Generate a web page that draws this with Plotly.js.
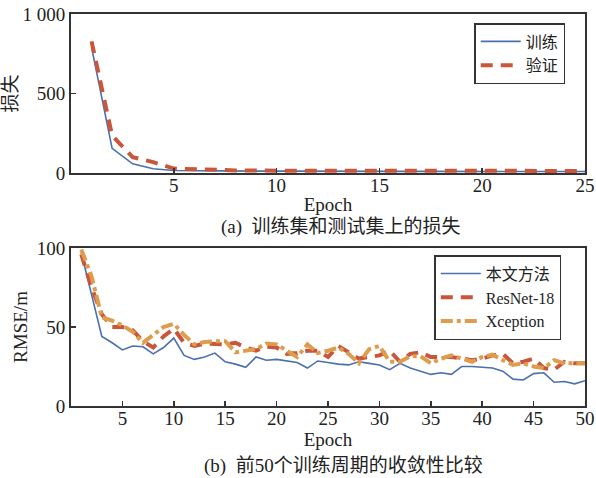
<!DOCTYPE html>
<html>
<head>
<meta charset="utf-8">
<script src="https://cdn.plot.ly/plotly-3.0.1.min.js"></script>
<style>html,body{margin:0;padding:0;background:#fff}#chart{width:596px;height:478px}</style>
</head>
<body>
<div id="chart"></div>
<script>
// ---- Data: (a) loss ----
const lossEpochs = [1,2,3,4,5,6,7,8,9,10,11,12,13,14,15,16,17,18,19,20,21,22,23,24,25];
const trainLoss = [790,155,58,27,16,14,13,13,12,12,11,11,11,10,10,10,10,9,9,9,9,9,9,9,9];
const valLoss   = [828,235,100,68,28,22,18,16,15,15,15,17,15,14,14,14,13,13,13,13,13,13,13,13,13];
const lossNames = ['训练','验证'];

// ---- Data: (b) RMSE over first 50 epochs ----
const rmseEpochs = [1,2,3,4,5,6,7,8,9,10,11,12,13,14,15,16,17,18,19,20,21,22,23,24,25,26,27,28,29,30,31,32,33,34,35,36,37,38,39,40,41,42,43,44,45,46,47,48,49,50];
const rmseOurs = [97,70,44,40,35.5,38,37.5,33,37,43,32,29.5,31,33.5,28,26.5,24.5,31,29,29.5,28.5,27.5,24,28.5,27.5,26.5,26,28,27,26,23,27,24,22,20,21,20,25,25,24.5,24,22,17,16.5,20.5,21,15,15.5,14,16];
const rmseResNet = [96,75,58,50,50,48,41,37,44,49,40,38,39.5,39,39,40,37,35,37.5,37,33,33.5,35,35,31,38,34,30,31,32,35,28,33,34,31,31,31,30,29,30,32,33,27,28,30,24,23,28,27,27];
const rmseXception = [99,82,56,54,51,47,40,45,50,52,45,39,40.5,41,41,34,35,36,39.5,39,35,31,39,33.5,35,37,33,27,36,38,28,28,31.5,31.5,27,30,32,30,28,31,32.5,29,26,27,25,24,29,27,27,27];
const rmseNames = ['本文方法','ResNet-18','Xception'];

const topTicks = [5,10,15,20,25];
const botTicks = [5,10,15,20,25,30,35,40,45,50];

const BLUE = '#4a70ad', RED = '#c9553b', ORANGE = '#df9c4c';
const FONT = 'Liberation Serif, "Noto Sans CJK SC", serif';

const traces = [
  {x: lossEpochs, y: trainLoss, name: lossNames[0], type: 'scatter', mode: 'lines',
   line: {color: BLUE, width: 1.6}, xaxis: 'x', yaxis: 'y', legend: 'legend'},
  {x: lossEpochs, y: valLoss, name: lossNames[1], type: 'scatter', mode: 'lines',
   line: {color: RED, width: 4, dash: '12px,8px'}, xaxis: 'x', yaxis: 'y', legend: 'legend'},
  {x: rmseEpochs, y: rmseOurs, name: rmseNames[0], type: 'scatter', mode: 'lines',
   line: {color: BLUE, width: 1.6}, xaxis: 'x2', yaxis: 'y2', legend: 'legend2'},
  {x: rmseEpochs, y: rmseResNet, name: rmseNames[1], type: 'scatter', mode: 'lines',
   line: {color: RED, width: 4, dash: '12px,8px'}, xaxis: 'x2', yaxis: 'y2', legend: 'legend2'},
  {x: rmseEpochs, y: rmseXception, name: rmseNames[2], type: 'scatter', mode: 'lines',
   line: {color: ORANGE, width: 4, dash: '12px,4px,4px,4px'}, xaxis: 'x2', yaxis: 'y2', legend: 'legend2'}
];

const axCommon = {
  showline: true, mirror: true, linecolor: '#333', linewidth: 2,
  ticks: 'inside', ticklen: 5, tickwidth: 1.5, tickcolor: '#333',
  showgrid: false, zeroline: false,
  tickfont: {family: FONT, size: 19, color: '#222'}
};

const layout = {
  width: 596, height: 478,
  margin: {l: 71, r: 11, t: 14, b: 72},
  paper_bgcolor: '#fff', plot_bgcolor: '#fff',
  font: {family: FONT, size: 19, color: '#222'},
  xaxis: Object.assign({}, axCommon, {domain: [0,1], range: [0,25], tickvals: topTicks, anchor: 'y',
    ticklabelstandoff: -6,
    title: {text: 'Epoch', font: {family: FONT, size: 19}, standoff: 3}}),
  yaxis: Object.assign({}, axCommon, {domain: [0.5944,1], range: [0,1000], tickvals: [0,500,1000],
    ticktext: ['0','500','1 000'], anchor: 'x',
    title: {text: '损失', font: {family: FONT, size: 19}, standoff: 4}}),
  xaxis2: Object.assign({}, axCommon, {domain: [0,1], range: [0,50], tickvals: botTicks, anchor: 'y2',
    ticklabelstandoff: -6,
    title: {text: 'Epoch', font: {family: FONT, size: 19}, standoff: 5}}),
  yaxis2: Object.assign({}, axCommon, {domain: [0,0.4031], range: [0,100], tickvals: [0,50,100], anchor: 'x2',
    title: {text: 'RMSE/m', font: {family: FONT, size: 19}, standoff: 4}}),
  legend: {x: 0.7845, y: 0.977, xanchor: 'left', yanchor: 'top', bgcolor: '#fff',
    bordercolor: '#333', borderwidth: 1.5, font: {family: FONT, size: 16, color: '#222'},
    tracegroupgap: 0, itemwidth: 40},
  legend2: {x: 0.7068, y: 0.385, xanchor: 'left', yanchor: 'top', bgcolor: '#fff',
    bordercolor: '#333', borderwidth: 1.5, font: {family: FONT, size: 16, color: '#222'},
    tracegroupgap: 0, itemwidth: 40},
  annotations: [
    {text: '(a)  训练集和测试集上的损失', xref: 'paper', yref: 'paper', x: 0.526, y: 0.456,
     xanchor: 'center', yanchor: 'middle', showarrow: false, font: {family: FONT, size: 19, color: '#222'}},
    {text: '(b)  前50个训练周期的收敛性比较', xref: 'paper', yref: 'paper', x: 0.531, y: -0.153,
     xanchor: 'center', yanchor: 'middle', showarrow: false, font: {family: FONT, size: 19, color: '#222'}}
  ],
  showlegend: true
};

Plotly.newPlot('chart', traces, layout, {displayModeBar: false, staticPlot: true});
</script>
</body>
</html>
